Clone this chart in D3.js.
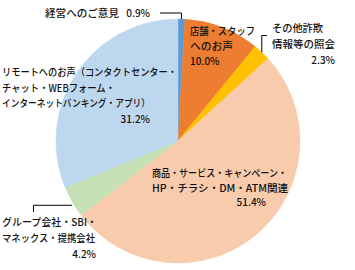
<!DOCTYPE html>
<html>
<head>
<meta charset="utf-8">
<script src="https://cdn.jsdelivr.net/npm/d3@7"></script>
<style>
  body { margin: 0; background: #fff; }
  text { font-family: "Noto Sans CJK JP", "Noto Sans", sans-serif; fill: #111; font-weight: 500; }
</style>
</head>
<body>
<div id="chart"></div>
<script>
var svgWidth = 355;
var svgHeight = 270;

// data
var categories = ["経営へのご意見", "店舗・スタッフへのお声", "その他詐欺情報等の照会",
    "商品・サービス・キャンペーン・HP・チラシ・DM・ATM関連", "グループ会社・SBI・マネックス・提携会社",
    "リモートへのお声（コンタクトセンター・チャット・WEBフォーム・インターネットバンキング・アプリ）"];
var shares = [0.9, 10.0, 2.3, 51.4, 4.2, 31.2];
var colors = ["#5b9bd5", "#ed7d31", "#ffc000", "#f8cbad", "#c5e0b4", "#bdd7ee"];
var labelLines = [
    ["経営へのご意見"],
    ["店舗・スタッフ", "へのお声"],
    ["その他詐欺", "情報等の照会"],
    ["商品・サービス・キャンペーン・", "HP・チラシ・DM・ATM関連"],
    ["グループ会社・SBI・", "マネックス・提携会社"],
    ["リモートへのお声（コンタクトセンター・", "チャット・WEBフォーム・", "インターネットバンキング・アプリ）"]
];

// label layout: x of text lines, baseline of first line, line step, widths to fit,
// anchor point for the percentage
var layout = [
    { x: 45, y: 17, step: 0, widths: [74], pctX: 150, inline: true },
    { x: 190, y: 35, step: 15, widths: [65, 43], pctX: 190, pctAnchor: "start" },
    { x: 272, y: 32, step: 16, widths: [51, 63], pctX: 335, pctAnchor: "end" },
    { x: 152, y: 177, step: 14.5, widths: [135, 136], pctX: 266, pctAnchor: "end" },
    { x: 2, y: 226, step: 16, widths: [95, 93], pctX: 96, pctAnchor: "end" },
    { x: 2, y: 76, step: 15.5, widths: [175, 113, 148], pctX: 150, pctAnchor: "end" }
];

var cx = 178, cy = 141, radius = 122;

var svg = d3.select("#chart")
    .append("svg")
    .attr("width", svgWidth)
    .attr("height", svgHeight);

var pieData = d3.pie()
    .sort(null)
    .value(d => d)(shares);

var arc = d3.arc()
    .innerRadius(0)
    .outerRadius(radius);

var pieGroup = svg.append("g")
    .attr("transform", `translate(${cx}, ${cy})`);

pieGroup.selectAll("path")
    .data(pieData)
    .enter()
    .append("path")
    .attr("d", arc)
    .attr("fill", (d, i) => colors[i])
    .attr("stroke", (d, i) => colors[i])
    .attr("stroke-width", 0.5);

// point on the rim at the middle of a slice
function rimPoint(d) {
    var a = (d.startAngle + d.endAngle) / 2;
    return [cx + radius * Math.sin(a), cy - radius * Math.cos(a)];
}

// leader lines
var leaders = svg.append("g")
    .attr("fill", "none")
    .attr("stroke", "#000")
    .attr("stroke-width", 1);

var p0 = rimPoint(pieData[0]);
leaders.append("path")
    .attr("d", `M${p0[0]},${p0[1]}V13H160`);

var p2 = rimPoint(pieData[2]);
leaders.append("path")
    .attr("d", `M${p2[0]},${p2[1]}V35.5H267`);

var p4 = rimPoint(pieData[4]);
leaders.append("path")
    .attr("d", `M${p4[0]},${p4[1] + 3.5}H33.5V212`);

// labels
var labels = svg.append("g")
    .attr("font-size", "10px");

labelLines.forEach(function (lines, i) {
    var lay = layout[i];
    var pct = shares[i].toFixed(1) + "%";
    if (lay.inline) {
        labels.append("text")
            .attr("x", lay.x)
            .attr("y", lay.y)
            .attr("textLength", lay.widths[0])
            .attr("lengthAdjust", "spacingAndGlyphs")
            .text(lines[0]);
        labels.append("text")
            .attr("x", lay.pctX)
            .attr("y", lay.y)
            .attr("text-anchor", "end")
            .text(pct);
        return;
    }
    lines.forEach(function (line, j) {
        labels.append("text")
            .attr("x", lay.x)
            .attr("y", lay.y + j * lay.step)
            .attr("textLength", lay.widths[j])
            .attr("lengthAdjust", "spacingAndGlyphs")
            .text(line);
    });
    labels.append("text")
        .attr("x", lay.pctX)
        .attr("y", lay.y + lines.length * lay.step)
        .attr("text-anchor", lay.pctAnchor)
        .text(pct);
});
</script>
</body>
</html>
